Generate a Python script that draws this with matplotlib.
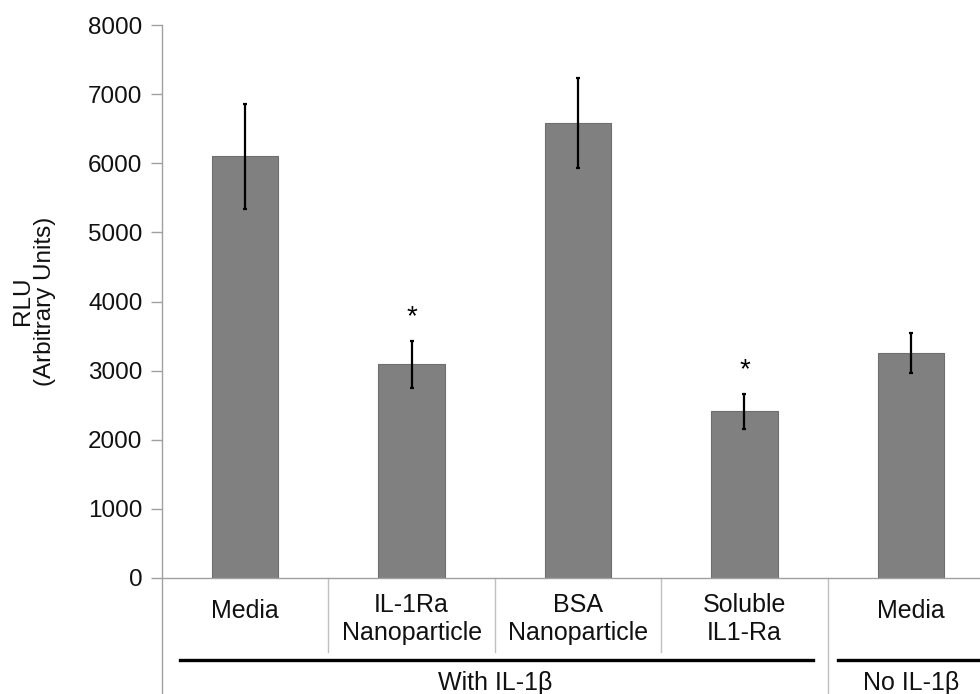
import matplotlib
matplotlib.use("Agg")
import matplotlib.pyplot as plt
from matplotlib.lines import Line2D

plt.rcParams['font.family'] = ['Liberation Sans', 'DejaVu Sans']

categories = ["Media", "IL-1Ra\nNanoparticle", "BSA\nNanoparticle", "Soluble\nIL1-Ra", "Media"]
values = [6100, 3090, 6580, 2410, 3260]
errors = [760, 340, 650, 250, 290]
significant = [False, True, False, True, False]
groups = [("With IL-1\u03b2", 0, 3), ("No IL-1\u03b2", 4, 4)]
yticks = [0, 1000, 2000, 3000, 4000, 5000, 6000, 7000, 8000]
ylabel = "RLU\n(Arbitrary Units)"

W, H = 980, 694
fig = plt.figure(figsize=(W / 100, H / 100), dpi=100)
ax_left, ax_right, ax_top, ax_bottom = 162, 994, 25, 578
ax = fig.add_axes([ax_left / W, (H - ax_bottom) / H, (ax_right - ax_left) / W, (ax_bottom - ax_top) / H])

x = list(range(len(values)))
ax.bar(x, values, width=0.40, color="#808080", edgecolor="#6e6e6e", linewidth=0.8, zorder=2)
ax.errorbar(x, values, yerr=errors, fmt="none", ecolor="black", elinewidth=1.6, capsize=1.5, capthick=1.6, zorder=3)

ax.set_xlim(-0.5, len(values) - 0.5)
ax.set_ylim(0, 8000)
ax.set_yticks(yticks)
ax.set_yticklabels([str(t) for t in yticks], fontsize=17.5, color="#111111")
ax.tick_params(axis="y", direction="out", length=8, width=1, color="#a0a0a0", pad=6)
ax.set_xticks([])
for s in ["top", "right"]:
    ax.spines[s].set_visible(False)
ax.spines["left"].set_visible(False)
ax.spines["bottom"].set_color("#a0a0a0")
ax.spines["bottom"].set_linewidth(1)

fig.text(34 / W, (H - 301) / H, ylabel, rotation=90, ha="center", va="center",
         fontsize=17.5, linespacing=1.0, color="#111111")

ah = ax_bottom - ax_top
def ay(py):
    return (ax_bottom - py) / ah

trans = ax.get_xaxis_transform()
# left axis line extends to bottom of figure
ax.add_line(Line2D([-0.5, -0.5], [1.0, ay(H)], transform=trans, color="#a0a0a0", lw=1, clip_on=False))
# dividers
for b in [0.5, 1.5, 2.5]:
    ax.add_line(Line2D([b, b], [0, ay(652)], transform=trans, color="#c0c0c0", lw=1, clip_on=False))
ax.add_line(Line2D([3.5, 3.5], [0, ay(H)], transform=trans, color="#c0c0c0", lw=1, clip_on=False))

# category labels
for i, lab in enumerate(categories):
    if "\n" in lab:
        ax.text(i, ay(619), lab, transform=trans, ha="center", va="center", fontsize=18, linespacing=1.2, color="#111111")
    else:
        ax.text(i, ay(611), lab, transform=trans, ha="center", va="center", fontsize=18, color="#111111")

# asterisks
for i, (v, e, s) in enumerate(zip(values, errors, significant)):
    if s:
        ax.text(i, v + e + 340, "*", ha="center", va="center", fontsize=20)

# group lines and labels
ax.add_line(Line2D([-0.392, 3.412], [ay(660), ay(660)], transform=trans, color="black", lw=2.4, clip_on=False))
ax.add_line(Line2D([3.562, 4.6], [ay(660), ay(660)], transform=trans, color="black", lw=2.4, clip_on=False))
for name, a, b in groups:
    ax.text((a + b) / 2, ay(683), name, transform=trans, ha="center", va="center", fontsize=18, color="#111111")

fig.savefig("out.png", dpi=100)
